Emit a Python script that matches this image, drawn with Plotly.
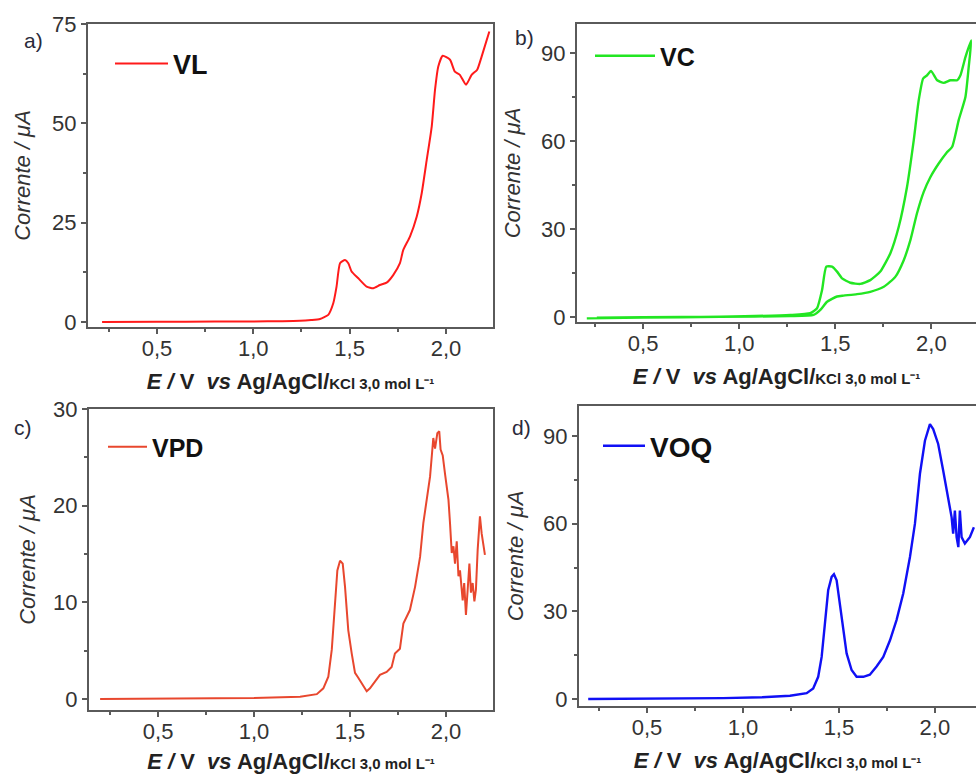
import plotly.graph_objects as go

# ---------------- data ----------------
vl_E = [0.215, 0.5, 0.8, 1.0, 1.15, 1.242, 1.30, 1.346, 1.389, 1.415, 1.432, 1.450, 1.476, 1.493,
        1.510, 1.545, 1.588, 1.623, 1.657, 1.692, 1.726, 1.761, 1.778, 1.813, 1.848, 1.874,
        1.900, 1.926, 1.943, 1.960, 1.983, 2.021, 2.046, 2.072, 2.104, 2.133, 2.162, 2.185, 2.225]
vl_I = [0.0, 0.05, 0.1, 0.15, 0.2, 0.3, 0.5, 0.75, 1.8, 4.7, 8.9, 14.8, 15.6, 14.8,
        12.7, 11.0, 8.9, 8.5, 9.3, 9.9, 11.8, 14.8, 18.1, 21.5, 26.5, 32.4,
        40.8, 49.2, 58.4, 64.3, 67.0, 66.0, 63.0, 62.2, 59.7, 62.2, 63.5, 66.8, 73.1]

vc_E = [0.207, 0.5, 0.9, 1.266, 1.370, 1.405, 1.431, 1.453, 1.483, 1.509, 1.535, 1.578, 1.630,
        1.682, 1.734, 1.786, 1.830, 1.873, 1.908, 1.934, 1.957, 1.977, 1.998, 2.030, 2.064,
        2.099, 2.134, 2.151, 2.177, 2.207,
        2.194, 2.177, 2.142, 2.108, 2.078, 2.038, 1.995, 1.960, 1.925, 1.891, 1.856, 1.812,
        1.752, 1.682, 1.613, 1.543, 1.509, 1.457, 1.422, 1.387, 1.266, 0.9, 0.5, 0.259]
vc_I = [-0.45, -0.2, 0.1, 0.7, 1.3, 3.0, 9.2, 17.2, 17.2, 15.5, 13.2, 11.7, 11.3,
        12.6, 15.5, 21.7, 30.8, 44.4, 60.3, 74.0, 81.4, 82.5, 84.0, 80.8, 79.9,
        80.8, 80.8, 82.5, 88.7, 94.4,
        85.3, 75.1, 67.2, 58.1, 56.0, 52.4, 47.8, 42.7, 35.4, 26.3, 19.4, 13.7,
        10.3, 8.6, 7.8, 7.3, 7.0, 5.2, 2.4, 0.7, 0.3, 0.1, -0.1, -0.2]

vpd_E = [0.198, 0.6, 1.0, 1.240, 1.327, 1.361, 1.387, 1.405, 1.422, 1.434, 1.448, 1.462, 1.474,
         1.491, 1.509, 1.526, 1.543, 1.561, 1.587, 1.604, 1.630, 1.656, 1.691, 1.717, 1.734,
         1.760, 1.778, 1.795, 1.812, 1.839, 1.865, 1.882, 1.900, 1.917, 1.934, 1.943, 1.955,
         1.965, 1.972, 1.983, 1.995, 2.013, 2.021, 2.030, 2.039, 2.047, 2.056, 2.065, 2.073,
         2.087, 2.095, 2.104, 2.113, 2.122, 2.130, 2.139, 2.148, 2.156, 2.165, 2.177, 2.186, 2.203]
vpd_I = [0.0, 0.05, 0.1, 0.24, 0.5, 1.1, 2.3, 5.1, 9.5, 13.3, 14.3, 14.0, 11.6,
         7.1, 4.7, 2.7, 2.2, 1.6, 0.8, 1.1, 1.8, 2.5, 2.8, 3.3, 4.7,
         5.2, 7.8, 8.5, 9.2, 11.6, 14.7, 18.2, 20.9, 23.0, 27.0, 25.9, 27.5,
         27.7, 25.8, 25.2, 23.3, 20.6, 18.2, 15.1, 15.8, 14.0, 16.3, 12.7, 13.3,
         10.2, 12.0, 8.7, 11.3, 14.0, 11.0, 12.0, 10.1, 11.3, 15.4, 18.9, 17.1, 14.9]

voq_E = [0.194, 0.5, 0.897, 1.1, 1.245, 1.332, 1.366, 1.392, 1.410, 1.427, 1.444, 1.462, 1.474,
         1.488, 1.505, 1.522, 1.540, 1.566, 1.592, 1.627, 1.661, 1.696, 1.731, 1.766, 1.800,
         1.835, 1.870, 1.896, 1.922, 1.948, 1.974, 1.991, 2.017, 2.043, 2.069, 2.087, 2.095,
         2.104, 2.113, 2.122, 2.130, 2.139, 2.156, 2.182, 2.203]
voq_I = [0.0, 0.1, 0.3, 0.6, 1.1, 2.0, 3.6, 7.6, 14.4, 25.8, 37.2, 41.8, 42.7,
         40.6, 32.7, 23.6, 15.6, 9.9, 7.6, 7.6, 8.3, 11.1, 14.4, 20.1, 27.0,
         36.1, 48.6, 60.0, 77.1, 88.4, 94.1, 92.4, 87.3, 78.2, 69.0, 62.2, 56.6,
         64.5, 55.4, 52.0, 64.5, 55.4, 53.2, 55.4, 58.8]

series_names = ["VL", "VC", "VPD", "VOQ"]
panel_labels = ["a)", "b)", "c)", "d)"]
x_ticks = [0.5, 1.0, 1.5, 2.0]

# ---------------- figure ----------------
W, H = 976, 774
FONT = "Liberation Sans, Arial, sans-serif"
AX = "#5a5a5a"

def px(x):
    return x / W

def py(y):
    return 1 - y / H

panels = [
    dict(E=vl_E, I=vl_I, color="#ff1a1a", lw=2, xd=(88, 493), yd=(24, 327),
         xr=[0.142, 2.244], yr=[-1.26, 75], dt=25, leg=(110, 64), lf=27, iw=53,
         shape="spline", ystand=15),
    dict(E=vc_E, I=vc_I, color="#22e622", lw=2.4, xd=(577, 976), yd=(24, 322),
         xr=[0.156, 2.232], yr=[-1.7, 100], dt=30, leg=(590, 56), lf=25, iw=60,
         shape="spline", ystand=14),
    dict(E=vpd_E, I=vpd_I, color="#e8472e", lw=2, xd=(89, 493), yd=(409, 710),
         xr=[0.14, 2.245], yr=[-1.14, 30], dt=10, leg=(103, 447), lf=25, iw=39,
         shape="linear", ystand=11),
    dict(E=voq_E, I=voq_I, color="#1010f5", lw=2.4, xd=(579, 976), yd=(406, 706),
         xr=[0.146, 2.214], yr=[-2.4, 100.3], dt=30, leg=(598, 446), lf=28, iw=42,
         shape="linear", ystand=13),
]

fig = go.Figure()
layout = dict(
    width=W, height=H,
    margin=dict(l=0, r=0, t=0, b=0, autoexpand=False),
    paper_bgcolor="white", plot_bgcolor="white",
    separators=",.",
    font=dict(family=FONT, color="#333333"),
    annotations=[],
)

xtitle = ("<b><i>E /</i> V&nbsp;&nbsp;<i>vs</i> Ag/AgCl/"
          "<span style='font-size:15px'>KCl 3,0 mol L⁻¹</span></b>")
ytitle = "<i>Corrente / μA</i>"

label_pos = [(33, 40), (524, 37), (23, 428), (521, 428)]

for i, p in enumerate(panels):
    k = "" if i == 0 else str(i + 1)
    legname = "legend" + k
    fig.add_trace(go.Scatter(
        x=p["E"], y=p["I"], mode="lines", name=series_names[i],
        line=dict(color=p["color"], width=p["lw"], shape=p["shape"], smoothing=0.5),
        xaxis="x" + k, yaxis="y" + k, legend=legname, showlegend=True,
    ))
    layout["xaxis" + k] = dict(
        domain=[px(p["xd"][0]), px(p["xd"][1])], anchor="y" + k,
        range=p["xr"], tickvals=x_ticks, tickformat=".1f", automargin=False,
        ticks="outside", ticklen=5, tickwidth=2, tickcolor=AX,
        minor=dict(ticks="outside", ticklen=3, tickwidth=1.5, tickcolor=AX, dtick=0.25, tick0=0),
        showline=True, linecolor=AX, linewidth=2, mirror=True,
        showgrid=False, zeroline=False, ticklabelstandoff=-4,
        tickfont=dict(size=22, color="#333333", family=FONT),
        title=dict(text=xtitle, standoff=13, font=dict(size=22, color="#222222", family=FONT)),
    )
    layout["yaxis" + k] = dict(
        domain=[py(p["yd"][1]), py(p["yd"][0])], anchor="x" + k,
        range=p["yr"], dtick=p["dt"], tick0=0, automargin=False,
        ticks="outside", ticklen=5, tickwidth=2, tickcolor=AX,
        minor=dict(ticks="outside", ticklen=3, tickwidth=1.5, tickcolor=AX, dtick=p["dt"] / 2),
        showline=True, linecolor=AX, linewidth=2, mirror=True,
        showgrid=False, zeroline=False,
        tickfont=dict(size=22, color="#333333", family=FONT),
        title=dict(text=ytitle, standoff=p["ystand"], font=dict(size=22, color="#333333", family=FONT)),
    )
    layout[legname] = dict(
        x=px(p["leg"][0]), y=py(p["leg"][1]), xanchor="left", yanchor="middle",
        bgcolor="rgba(0,0,0,0)", borderwidth=0,
        font=dict(size=p["lf"], color="#111111", family=FONT, weight="bold"),
        itemwidth=p["iw"],
    )
    layout["annotations"].append(dict(
        text=panel_labels[i], x=px(label_pos[i][0]), y=py(label_pos[i][1]),
        xref="paper", yref="paper", showarrow=False, xanchor="center", yanchor="middle",
        font=dict(size=21, color="#2a2a3a", family=FONT),
    ))

fig.update_layout(**layout)
fig.write_html("out.html")
